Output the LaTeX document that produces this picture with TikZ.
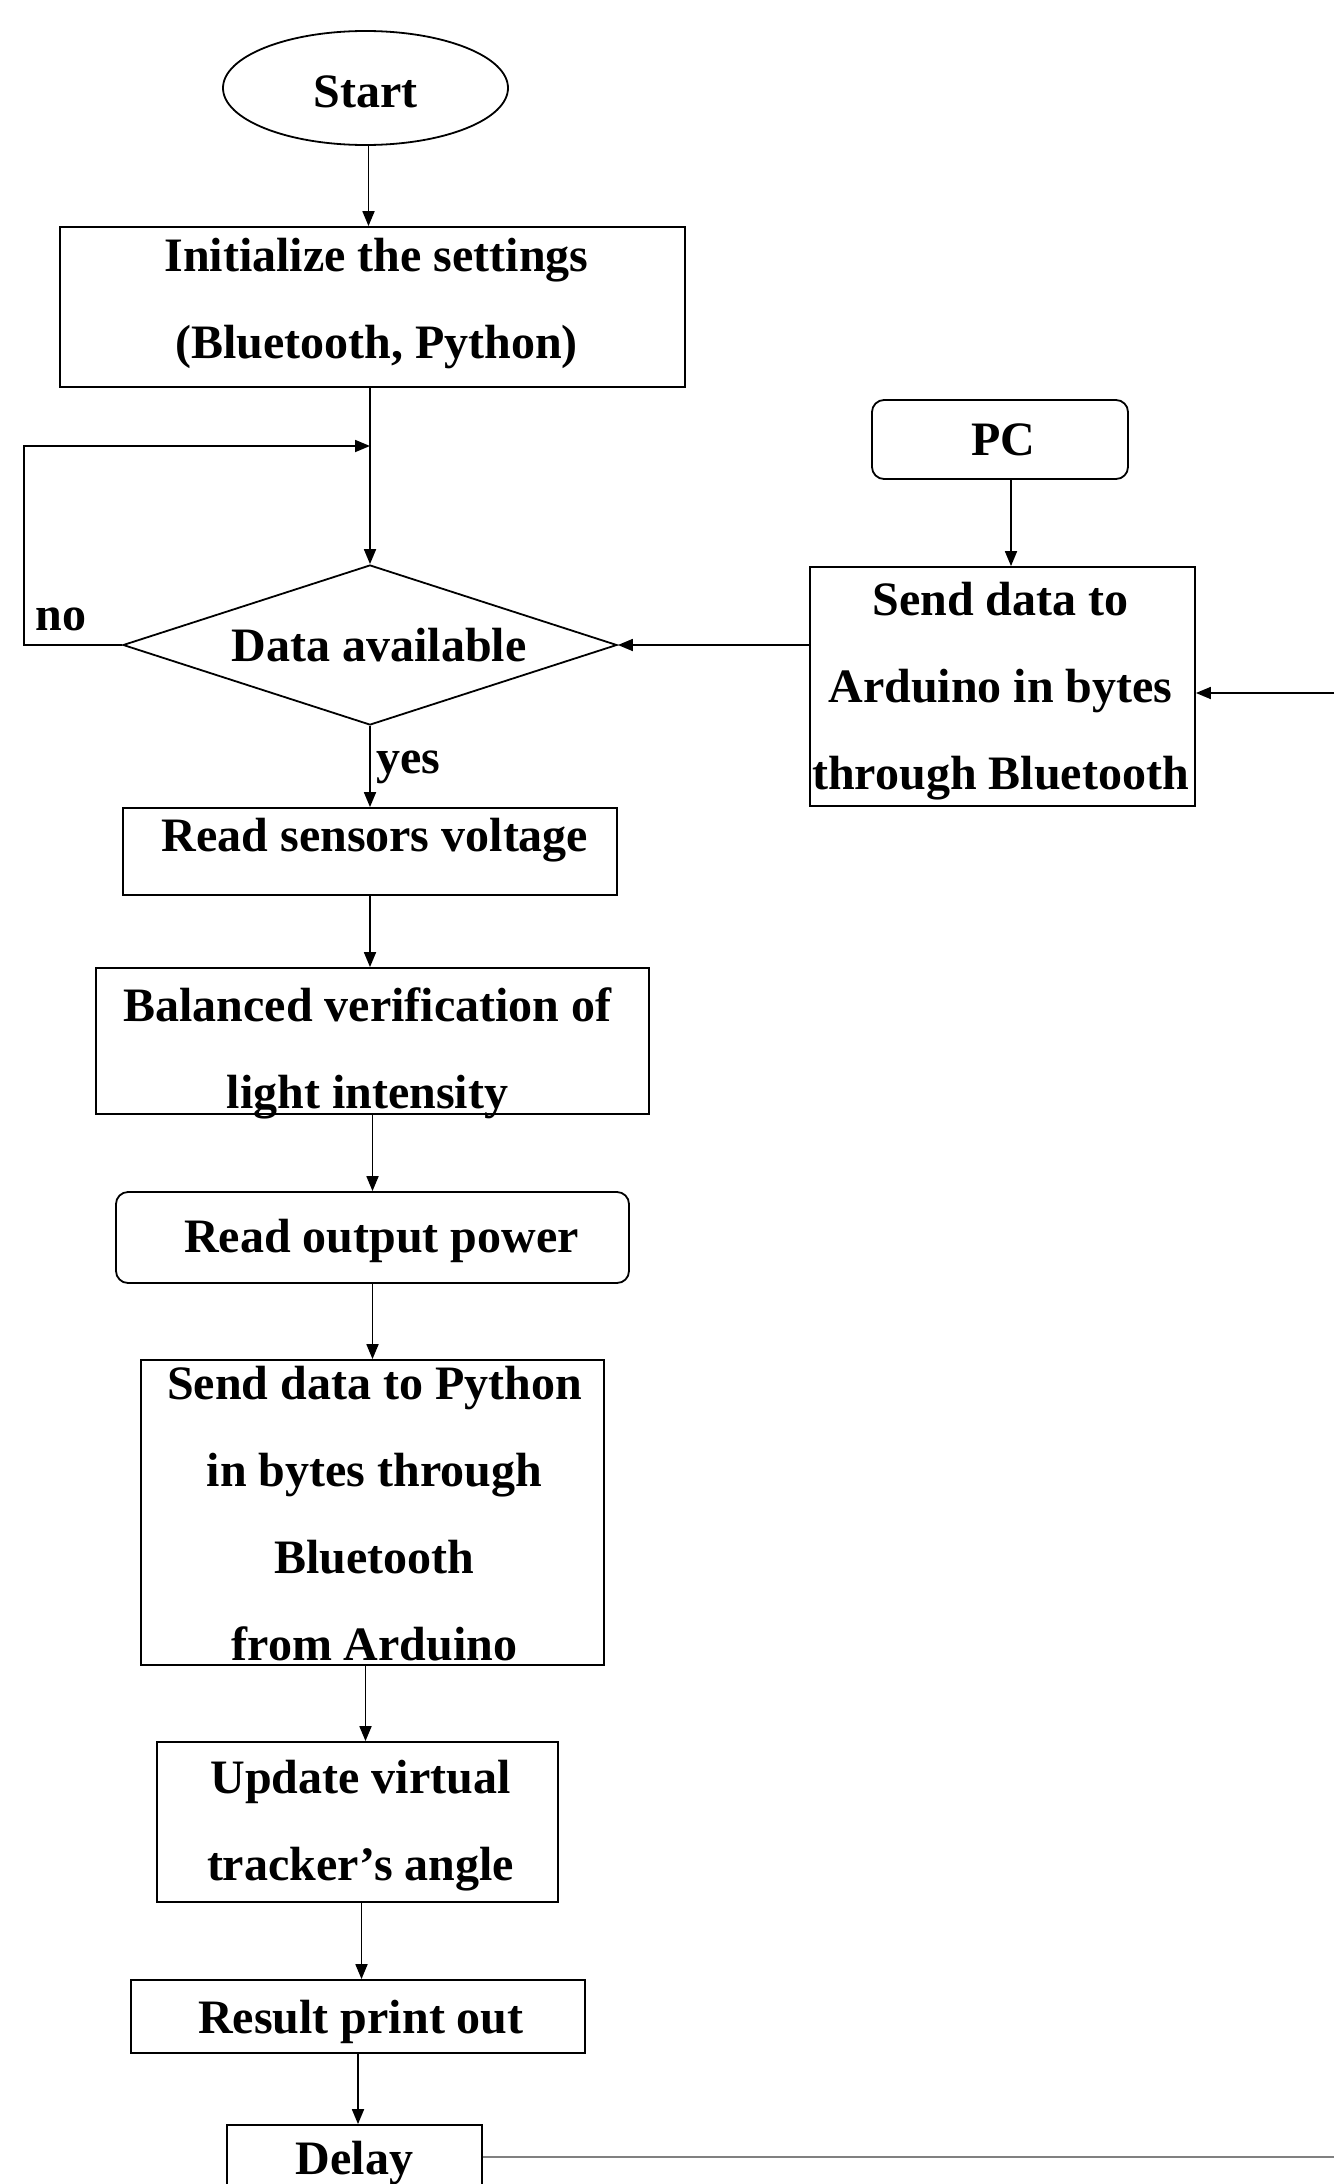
\documentclass[tikz,border=0pt]{standalone}
\usepackage{fontspec}
\setmainfont{Liberation Serif}
\usetikzlibrary{shapes.geometric,arrows.meta,calc}
\begin{document}
\begin{tikzpicture}[x=1pt,y=-1pt,
  every node/.style={font=\fontsize{48}{87}\selectfont\bfseries, inner sep=0pt, align=center},
  box/.style={draw, line width=1.8pt, rectangle},
  rbox/.style={box, rounded corners=12pt},
  txt/.style n args={3}{label={[xshift=#1,yshift=#2]center:{#3}}},
  arr/.style={-{Triangle[length=15pt,width=12pt]}, line width=1.8pt}]
\useasboundingbox (0,0) rectangle (1334,2184);
\clip (0,0) rectangle (1334,2184);

\node[draw, ellipse, line width=1.8pt, minimum width=285pt, minimum height=114pt,
      txt={0pt}{-4pt}{Start}] (start) at (365.5,88) {};
\node[box, minimum width=625pt, minimum height=160pt,
      txt={4pt}{3pt}{Initialize the settings\\(Bluetooth, Python)}] (init) at (372.5,307) {};
\node[diamond, draw, line width=1.8pt, minimum width=494pt, minimum height=160pt,
      txt={9pt}{0pt}{Data available}] (dia) at (370,645) {};
\node[box, minimum width=494pt, minimum height=87pt,
      txt={5pt}{11pt}{Read sensors voltage}] (rsv) at (370,851.5) {};
\node[box, minimum width=553pt, minimum height=146pt,
      txt={-5pt}{-12pt}{Balanced verification of\\light intensity}] (bal) at (372.5,1041) {};
\node[rbox, minimum width=513pt, minimum height=91pt,
      txt={9pt}{-3pt}{Read output power}] (rop) at (372.5,1237.5) {};
\node[box, minimum width=463pt, minimum height=305pt,
      txt={2pt}{-1pt}{Send data to Python\\in bytes through\\Bluetooth\\from Arduino}] (sdp) at (372.5,1512.5) {};
\node[box, minimum width=401pt, minimum height=160pt,
      txt={3pt}{-4pt}{Update virtual\\tracker’s angle}] (upd) at (357.5,1822) {};
\node[box, minimum width=454pt, minimum height=73pt,
      txt={3pt}{-5pt}{Result print out}] (res) at (358,2016.5) {};
\node[box, minimum width=255pt, minimum height=80pt,
      txt={0pt}{2pt}{Delay}] (del) at (354.5,2165) {};
\node[rbox, minimum width=256pt, minimum height=79pt,
      txt={3pt}{0pt}{PC}] (pc) at (1000,439.5) {};
\node[box, minimum width=385pt, minimum height=239pt,
      txt={-2pt}{-5pt}{Send data to\\Arduino in bytes\\through Bluetooth}] (ard) at (1002.5,686.5) {};

\node (yes) at (408,767) {yes};
\node (no) at (61,619) {no};

\coordinate (lp) at (24,446);
\coordinate (rin) at (1334,693);
\coordinate (rout) at (1334,2157);

\draw[arr] ([xshift=3pt]start.south) -- ([xshift=3pt]start.south |- init.north);
\draw[arr] (init.south -| dia.north) -- (dia.north);
\draw[arr] (dia.west) -- (dia.west -| lp) -- (lp) -- (lp -| dia.north);
\draw[arr] (dia.south) -- (rsv.north -| dia.south);
\draw[arr] (rsv.south) -- (rsv.south |- bal.north);
\draw[arr] (bal.south) -- (bal.south |- rop.north);
\draw[arr] (rop.south) -- (rop.south |- sdp.north);
\draw[arr] ([xshift=-7pt]sdp.south) -- ([xshift=-7pt]sdp.south |- upd.north);
\draw[arr] ([xshift=4pt]upd.south) -- ([xshift=4pt]upd.south |- res.north);
\draw[arr] (res.south) -- (res.south |- del.north);
\draw[arr] ([xshift=11pt]pc.south) -- ([xshift=11pt]pc.south |- ard.north);
\draw[arr] (dia.east -| ard.west) -- (dia.east);
\draw[arr] (rin) -- (rin -| ard.east);
\draw[gray, line width=2pt] (del.east |- rout) -- (rout);
\end{tikzpicture}
\end{document}
